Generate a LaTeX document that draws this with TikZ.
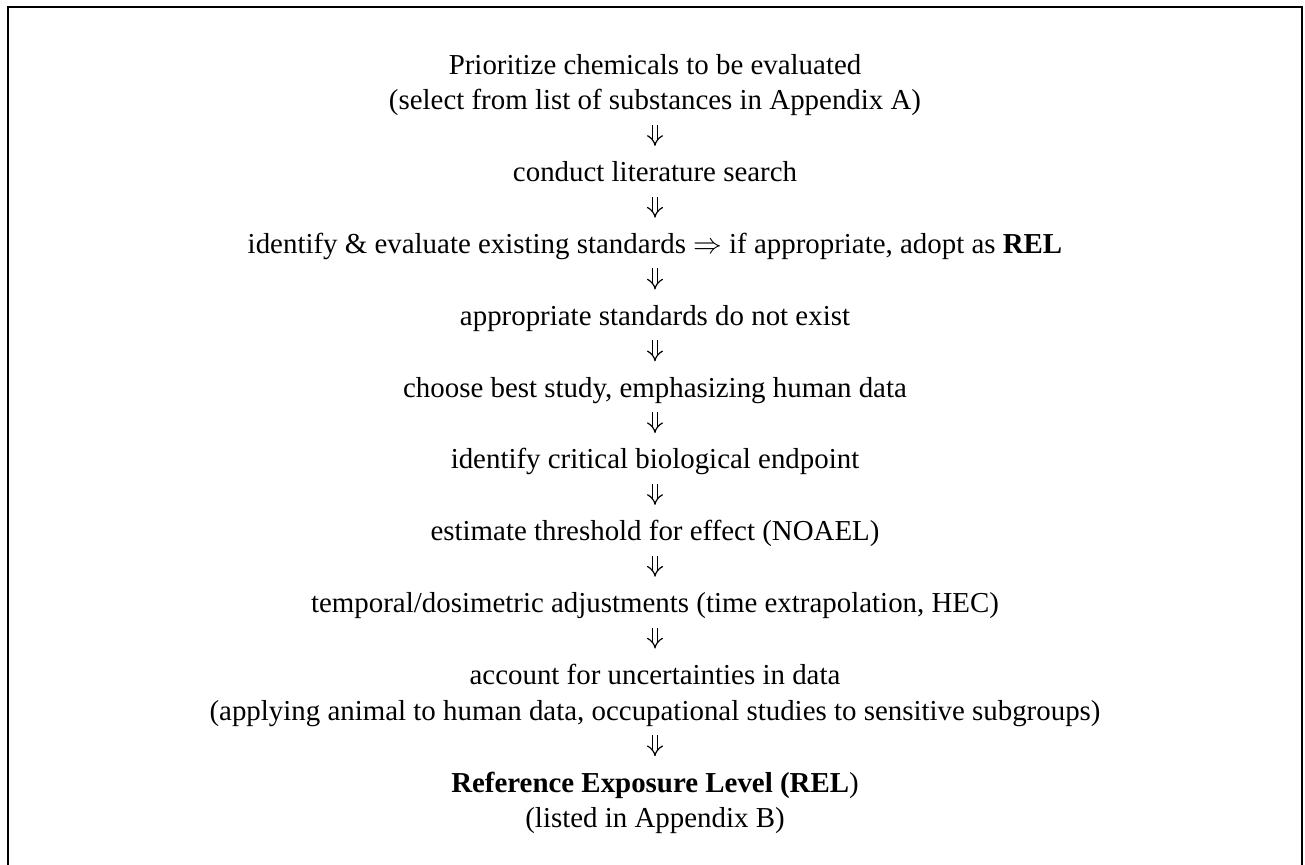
\documentclass[tikz,border=0pt]{standalone}
\usepackage{fontspec}
\setmainfont{Liberation Serif}
\usetikzlibrary{arrows.meta}
\tikzset{
  stepnode/.style={anchor=north, inner sep=0pt, outer sep=0pt, align=center,
    font=\fontsize{14.45pt}{17.95pt}\selectfont},
  flow/.style={double, double distance=2.2pt, line width=0.6pt,
    -{Implies[length=3.8pt, width=8.5pt]},
    shorten <=2.1pt, shorten >=5.35pt},
  frame/.style={line width=1.25pt, line cap=butt}
}
\begin{document}
\begin{tikzpicture}[x=0.5pt,y=-0.5pt]
\useasboundingbox (0,0) rectangle (1305,865);
\draw[frame] (8,865) -- (8,7) -- (1302,7) -- (1302,865);
\node[stepnode] (n1) at (655,48.9) {\strut Prioritize chemicals to be evaluated\\\strut(select from list of substances in Appendix A)};
\node[stepnode] (n2) at (655,156.6) {\strut conduct literature search};
\node[stepnode] (n3) at (655,228.4) {\strut identify \& evaluate existing standards $\Rightarrow$ if appropriate, adopt as \textbf{REL}};
\node[stepnode] (n4) at (655,300.2) {\strut appropriate standards do not exist};
\node[stepnode] (n5) at (655,372) {\strut choose best study, emphasizing human data};
\node[stepnode] (n6) at (655,443.8) {\strut identify critical biological endpoint};
\node[stepnode] (n7) at (655,515.6) {\strut estimate threshold for effect (NOAEL)};
\node[stepnode] (n8) at (655,587.4) {\strut temporal/dosimetric adjustments (time extrapolation, HEC)};
\node[stepnode] (n9) at (655,659.2) {\strut account for uncertainties in data\\\strut(applying animal to human data, occupational studies to sensitive subgroups)};
\node[stepnode] (n10) at (655,766.9) {\strut\textbf{Reference Exposure Level (REL})\\\strut(listed in Appendix B)};
\draw[flow] (n1) -- (n2);
\draw[flow] (n2) -- (n3);
\draw[flow] (n3) -- (n4);
\draw[flow] (n4) -- (n5);
\draw[flow] (n5) -- (n6);
\draw[flow] (n6) -- (n7);
\draw[flow] (n7) -- (n8);
\draw[flow] (n8) -- (n9);
\draw[flow] (n9) -- (n10);
\end{tikzpicture}
\end{document}
